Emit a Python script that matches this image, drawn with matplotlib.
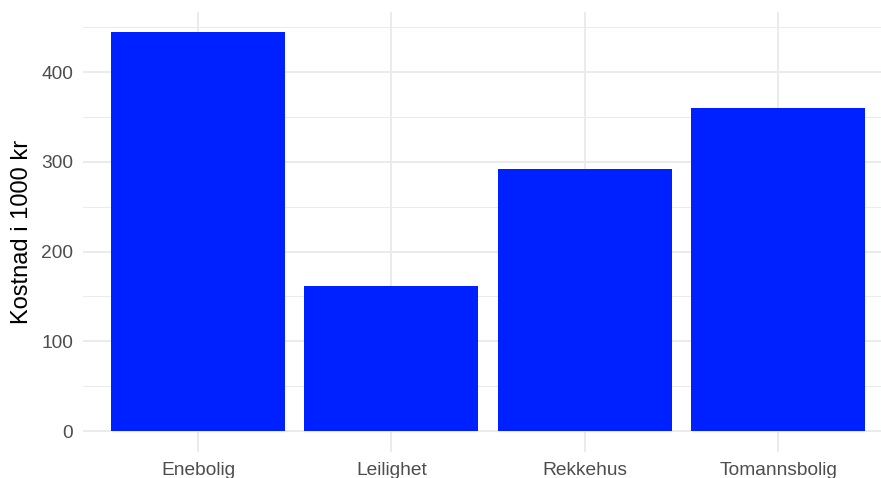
import matplotlib
matplotlib.use("Agg")
import matplotlib.pyplot as plt
from matplotlib.ticker import MultipleLocator

plt.rcParams['font.family'] = ['Liberation Sans', 'DejaVu Sans']

# Data
boligtyper = ["Enebolig", "Leilighet", "Rekkehus", "Tomannsbolig"]
kostnad = [445, 162, 292, 360]

W, H = 881, 478
fig = plt.figure(figsize=(W / 100, H / 100), dpi=100)
ax = fig.add_axes([83 / W, (H - 452) / H, (W - 83) / W, 440 / H])

x = list(range(1, len(boligtyper) + 1))
ax.bar(x, kostnad, width=0.9, color="#0021FF", zorder=3)

ax.set_xlim(0.405, 4.532)
ax.set_ylim(-23.4, 466.9)

ax.set_xticks(x)
ax.set_xticklabels(boligtyper)
ax.yaxis.set_major_locator(MultipleLocator(100))
ax.yaxis.set_minor_locator(MultipleLocator(50))

# theme_minimal-aktig
ax.grid(which="major", color="#EBEBEB", linewidth=1.4, zorder=0)
ax.grid(which="minor", axis="y", color="#EBEBEB", linewidth=0.7, zorder=0)
for s in ax.spines.values():
    s.set_visible(False)
ax.tick_params(which="both", length=0)
ax.tick_params(axis="x", labelsize=13.8, labelcolor="#4D4D4D", pad=7)
ax.tick_params(axis="y", labelsize=13.8, labelcolor="#4D4D4D", pad=7)

ax.set_ylabel("Kostnad i 1000 kr", fontsize=17, color="black", labelpad=6)

fig.savefig("out.png", dpi=100)
